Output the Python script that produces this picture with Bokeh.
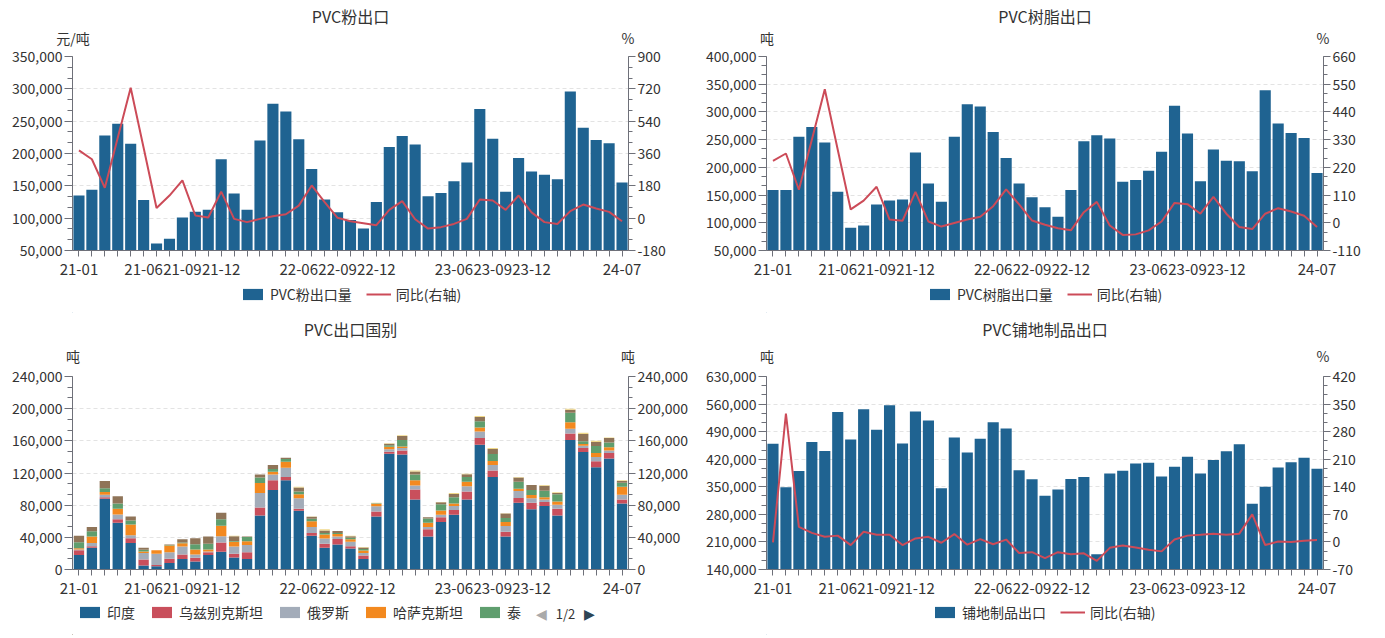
from bokeh.plotting import figure
from bokeh.models import (Range1d, LinearAxis, FixedTicker, NumeralTickFormatter, Label,
                          Legend, LegendItem, ColumnDataSource, AllLabels)
from bokeh.layouts import column, row
from bokeh.embed import file_html
from bokeh.resources import INLINE

# ---------------- data ----------------
months = ["21-01", "21-02", "21-03", "21-04", "21-05", "21-06", "21-07", "21-08", "21-09", "21-10", "21-11", "21-12",
          "22-01", "22-02", "22-03", "22-04", "22-05", "22-06", "22-07", "22-08", "22-09", "22-10", "22-11", "22-12",
          "23-01", "23-02", "23-03", "23-04", "23-05", "23-06", "23-07", "23-08", "23-09", "23-10", "23-11", "23-12",
          "24-01", "24-02", "24-03", "24-04", "24-05", "24-06", "24-07"]
shown_months = ["21-01", "21-06", "21-09", "21-12", "22-06", "22-09", "22-12", "23-06", "23-09", "23-12", "24-07"]

powder_vol = [135000, 144000, 228000, 246000, 215000, 128000, 61000, 68000, 101000, 110000, 113000, 191000,
              138000, 113000, 220000, 277000, 265000, 222000, 176000, 129000, 109000, 97000, 84000, 125000,
              210000, 227000, 214000, 134000, 139000, 157000, 186000, 269000, 223000, 141000, 193000, 172000,
              167000, 160000, 296000, 240000, 221000, 216000, 155000]
powder_yoy = [377, 328, 169, 447, 726, 392, 57, 126, 210, 15, 4, 148,
              -4, -22, -4, 11, 22, 70, 182, 89, 2, -17, -28, -39,
              46, 95, -6, -58, -50, -32, -4, 104, 98, 46, 126, 32,
              -22, -32, 39, 76, 54, 35, -17]

resin_vol = [159000, 159000, 255000, 273000, 245000, 156000, 91000, 95000, 133000, 140000, 142000, 227000,
             171000, 138000, 255000, 314000, 310000, 264000, 217000, 171000, 146000, 128000, 111000, 159000,
             247000, 258000, 252000, 174000, 177000, 194000, 228000, 311000, 261000, 175000, 232000, 212000,
             211000, 193000, 339000, 279000, 262000, 253000, 190000]
resin_yoy = [246, 275, 131, 330, 530, 290, 53, 88, 143, 13, 8, 123,
             5, -15, -1, 13, 24, 66, 133, 73, 9, -8, -22, -30,
             42, 83, -11, -48, -46, -30, 5, 79, 74, 36, 103, 36,
             -17, -25, 36, 58, 45, 28, -17]

floor_vol = [459000, 349000, 390000, 464000, 441000, 540000, 470000, 547000, 495000, 557000, 460000, 541000,
             518000, 346000, 475000, 437000, 472000, 514000, 498000, 392000, 369000, 327000, 343000, 370000,
             375000, 179000, 384000, 391000, 409000, 411000, 376000, 401000, 426000, 384000, 418000, 440000,
             458000, 307000, 350000, 399000, 412000, 424000, 396000]
floor_yoy = [-1, 326, 38, 23, 13, 16, -8, 26, 18, 18, -8, 9,
             13, -2, 20, -7, 7, -6, 6, -28, -26, -41, -26, -31,
             -29, -48, -15, -9, -14, -20, -24, 6, 16, 18, 21, 18,
             21, 70, -8, 1, 0, 3, 5]

country_names = ["印度", "乌兹别克斯坦", "俄罗斯", "哈萨克斯坦", "泰", "越南", "其他"]
india = [18, 27, 88, 58, 33, 5, 4, 8, 13, 10, 18, 22, 15, 13, 67, 99, 111, 73, 42, 27, 31, 26, 13, 66,
         144, 143, 87, 41, 59, 68, 87, 155, 115, 41, 83, 75, 79, 67, 161, 146, 127, 138, 82]
uzbek = [6, 2, 2, 4.5, 6, 7.5, 1.5, 5.5, 5.5, 4.5, 3.5, 11.5, 4.5, 8.5, 10, 12, 4, 2.5, 3.5, 5, 7, 3, 4.5, 6,
         2.5, 5, 12.5, 9, 6, 6, 10, 8.5, 8, 6, 6, 8, 5, 8.5, 8, 5, 7.5, 7, 5]
russia = [1, 4, 3, 6, 3.5, 8, 14, 8, 10, 4, 1, 8, 9, 9, 18, 7, 11.5, 13, 7.5, 6.5, 3, 5.5, 3, 6.5,
          3, 3, 5, 3, 3, 5, 6.5, 8, 7, 7, 8.5, 5.5, 3, 5, 6, 3, 5.5, 3, 6]
kazakh = [1.5, 8, 3.5, 7, 13.5, 2, 4.5, 8.5, 4, 6.5, 2.5, 13, 6, 4.5, 12.5, 3.5, 7.5, 5, 7, 5, 3, 3, 3, 3,
          3, 2, 6.5, 5, 5.5, 3, 5.5, 5, 5, 5, 3, 4, 3, 4, 8, 2, 5, 4, 10]
thai = [7.5, 6.5, 4.5, 6.5, 5, 2, 0, 0.5, 1, 6.5, 7, 8, 1, 5.5, 7, 3.5, 3.5, 3.5, 3, 2, 1.5, 2, 2, 0.5,
        2, 8, 7, 5.5, 7.5, 8, 6, 8, 8.5, 5, 8.5, 6.5, 8, 9, 12, 3.5, 8.5, 6, 5]
vietnam = [8, 5.5, 9, 9, 5, 2.5, 0, 0.5, 4, 7.5, 9, 8, 6, 0.5, 3.5, 5, 1.5, 5, 2.5, 3, 2.5, 2, 2, 0.5,
           2, 5, 4, 1.5, 2.5, 4, 3.5, 5, 6.5, 5.5, 5.5, 6, 6, 1.5, 3.5, 9, 5, 5.5, 2]
others = [0, 0, 0, 0, 0, 0, 0, 0, 0, 0, 0, 0, 0.5, 0, 0, 0, 0, 1, 0.5, 1.5, 0, 0.5, 0.5, 0.5,
          0.5, 1, 1, 0, 0.5, 1, 0.5, 1.5, 1, 0.5, 0.5, 0, 1, 1, 1.5, 1.5, 1.5, 0.5, 1]

# ---------------- style ----------------
FONT = "Noto Sans CJK SC"
BAR = "#1f6391"
LINE = "#cc4b58"
AX = "#6e7079"
TXT = "#333333"
GRID = "#e3e3e3"
STACK_COLORS = ["#1f6391", "#c94f5c", "#a3acb9", "#f3891f", "#5f9e6e", "#8f7458", "#f0d98a"]

idx = list(range(len(months)))

LW, RW = 698, 687          # column widths
FW_L, FW_R = 556, 557      # frame widths
MB = 32                    # main bottom border


def style_axis(ax, tick_out=8, minor_out=5, standoff=2, size="14px"):
    ax.axis_line_color = AX
    ax.major_tick_line_color = AX
    ax.minor_tick_line_color = AX
    ax.major_tick_in = 0
    ax.major_tick_out = tick_out
    ax.minor_tick_in = 0
    ax.minor_tick_out = minor_out
    ax.major_label_text_font = FONT
    ax.major_label_text_font_size = size
    ax.major_label_text_color = TXT
    ax.major_label_standoff = standoff


def ticker_for(lo, hi, step):
    n = int(round((hi - lo) / step))
    majors = [lo + step * k for k in range(n + 1)]
    minors = [lo + step * k / 3 for k in range(3 * n + 1)]
    return FixedTicker(ticks=majors, minor_ticks=minors), majors


def main_fig(w, bt, bl, br, left, right, title, unit_l, unit_r, u_stand, t_stand):
    lo, hi, st = left
    p = figure(width=w, height=bt + 194 + MB, x_range=Range1d(-0.5, len(months) - 0.5), y_range=Range1d(lo, hi),
               min_border_left=bl, min_border_right=br, min_border_top=bt, min_border_bottom=MB,
               output_backend="svg", toolbar_location=None)
    p.outline_line_color = None
    p.xgrid.visible = False
    tk, majors = ticker_for(lo, hi, st)
    p.yaxis.ticker = tk
    p.yaxis.formatter = NumeralTickFormatter(format="0,0")
    p.ygrid.ticker = FixedTicker(ticks=majors)
    p.ygrid.grid_line_color = GRID
    p.ygrid.grid_line_dash = "4 3"
    style_axis(p.yaxis[0])
    p.xaxis.ticker = FixedTicker(ticks=idx)
    p.xaxis.major_label_overrides = {i: (m if m in shown_months else "") for i, m in enumerate(months)}
    p.xaxis.major_label_policy = AllLabels()
    style_axis(p.xaxis[0], tick_out=6, minor_out=0, standoff=7, size="15px")
    # right value axis
    rlo, rhi, rst = right
    p.extra_y_ranges = {"r": Range1d(rlo, rhi)}
    rtk, _ = ticker_for(rlo, rhi, rst)
    rax = LinearAxis(y_range_name="r", ticker=rtk, formatter=NumeralTickFormatter(format="0,0"))
    style_axis(rax, tick_out=7, minor_out=4, standoff=2)
    p.add_layout(rax, "right")
    # unit names above both value axes, chart title as that axis' label
    p.extra_x_ranges = {"u": Range1d(-0.001, 1.001)}
    uax = LinearAxis(x_range_name="u", ticker=FixedTicker(ticks=[0, 1], minor_ticks=[]),
                     major_label_overrides={0: unit_l, 1: unit_r}, major_label_policy=AllLabels(),
                     axis_label=title)
    uax.axis_line_color = None
    uax.major_tick_line_color = None
    uax.minor_tick_line_color = None
    uax.major_tick_out = 0
    uax.major_label_standoff = u_stand
    uax.major_label_text_font = FONT
    uax.major_label_text_font_size = "14px"
    uax.major_label_text_color = TXT
    uax.axis_label_standoff = t_stand
    uax.axis_label_text_font = FONT
    uax.axis_label_text_font_size = "16px"
    uax.axis_label_text_font_style = "normal"
    uax.axis_label_text_color = TXT
    p.add_layout(uax, "above")
    return p


def blank(w, fw, h):
    p = figure(width=w, height=h, x_range=Range1d(0, fw), y_range=Range1d(0, h),
               x_axis_type=None, y_axis_type=None, min_border=0,
               output_backend="svg", toolbar_location=None)
    p.outline_line_color = None
    p.grid.visible = False
    return p


def lab(p, x, y, text, size="14px", color=TXT, font=FONT):
    p.add_layout(Label(x=x, y=y, text=text, text_font=font, text_font_size=size, text_color=color,
                       text_align="center", text_baseline="middle"))


def legend_on(p, items, x, y):
    lg = Legend(items=items, location=(x, y), orientation="horizontal",
                glyph_width=25, glyph_height=14, label_standoff=5, spacing=14,
                padding=0, margin=0, border_line_color=None, background_fill_alpha=0,
                label_text_font=FONT, label_text_font_size="14px", label_text_color=TXT,
                label_height=14)
    p.add_layout(lg)


def bar_line_footer(w, fw, h, bar_name, x, y):
    f = blank(w, fw, h)
    b = f.vbar(x=[-50], top=[1], width=1, fill_color=BAR, line_color=None)
    l = f.line(x=[-50, -49], y=[1, 1], line_color=LINE, line_width=2)
    legend_on(f, [LegendItem(label=bar_name, renderers=[b]), LegendItem(label="同比(右轴)", renderers=[l])], x, y)
    return f


def bar_line_main(w, bt, bl, br, left, right, vols, yoy, title, ul, ur, us, ts):
    p = main_fig(w, bt, bl, br, left, right, title, ul, ur, us, ts)
    src = ColumnDataSource(dict(x=idx, v=vols, r=yoy))
    p.vbar(x="x", top="v", bottom=0, width=0.86, source=src, fill_color=BAR, line_color=None)
    p.line(x="x", y="r", source=src, y_range_name="r", line_color=LINE, line_width=2)
    return p


TOP_BT, BOT_BT = 56, 62
FT = 313 - (TOP_BT + 194 + MB)          # top footer height
FB = 635 - 313 - (BOT_BT + 194 + MB)    # bottom footer height
TOP_TXT = (9, -3)                       # unit standoff, title standoff
BOT_TXT = (11, 2)

# ---- top-left: PVC粉出口
m1 = bar_line_main(LW, TOP_BT, 72, 70, (50000, 350000, 50000), (-180, 900, 180), powder_vol, powder_yoy,
                   "PVC粉出口", "元/吨", "%", *TOP_TXT)
f1 = bar_line_footer(LW, FW_L, FT, "PVC粉出口量", 168, FT - 22)

# ---- top-right: PVC树脂出口
m2 = bar_line_main(RW, TOP_BT, 68, 62, (50000, 400000, 50000), (-110, 660, 110), resin_vol, resin_yoy,
                   "PVC树脂出口", "吨", "%", *TOP_TXT)
f2 = bar_line_footer(RW, FW_R, FT, "PVC树脂出口量", 161, FT - 22)

# ---- bottom-left: PVC出口国别 (stacked)
m3 = main_fig(LW, BOT_BT, 72, 70, (0, 240000, 40000), (0, 240000, 40000), "PVC出口国别", "吨", "吨", *BOT_TXT)
stack_src = ColumnDataSource(dict(x=idx,
                                  s0=[v * 1000 for v in india], s1=[v * 1000 for v in uzbek],
                                  s2=[v * 1000 for v in russia], s3=[v * 1000 for v in kazakh],
                                  s4=[v * 1000 for v in thai], s5=[v * 1000 for v in vietnam],
                                  s6=[v * 1000 for v in others]))
keys = ["s0", "s1", "s2", "s3", "s4", "s5", "s6"]
m3.vbar_stack(keys, x="x", width=0.8, color=STACK_COLORS, line_color=None, source=stack_src)
f3 = blank(LW, FW_L, FB)
dummies = [f3.vbar(x=[-50], top=[1], width=1, fill_color=STACK_COLORS[i], line_color=None) for i in range(5)]
legend_on(f3, [LegendItem(label=country_names[i], renderers=[dummies[i]]) for i in range(5)], 5, FB - 21)
lab(f3, 469, FB - 12, "◀", size="14px", color="#aaaaaa", font="DejaVu Sans")
lab(f3, 493, FB - 12, "1/2", size="13px", color=TXT)
lab(f3, 517, FB - 12, "▶", size="14px", color="#2f4554", font="DejaVu Sans")

# ---- bottom-right: PVC铺地制品出口
m4 = bar_line_main(RW, BOT_BT, 68, 62, (140000, 630000, 70000), (-70, 420, 70), floor_vol, floor_yoy,
                   "PVC铺地制品出口", "吨", "%", *BOT_TXT)
f4 = bar_line_footer(RW, FW_R, FB, "铺地制品出口", 166, FB - 21)

layout = column(row(column(m1, f1, spacing=0), column(m2, f2, spacing=0), spacing=0),
                row(column(m3, f3, spacing=0), column(m4, f4, spacing=0), spacing=0), spacing=0)
open("out.html", "w").write(file_html(layout, INLINE))
